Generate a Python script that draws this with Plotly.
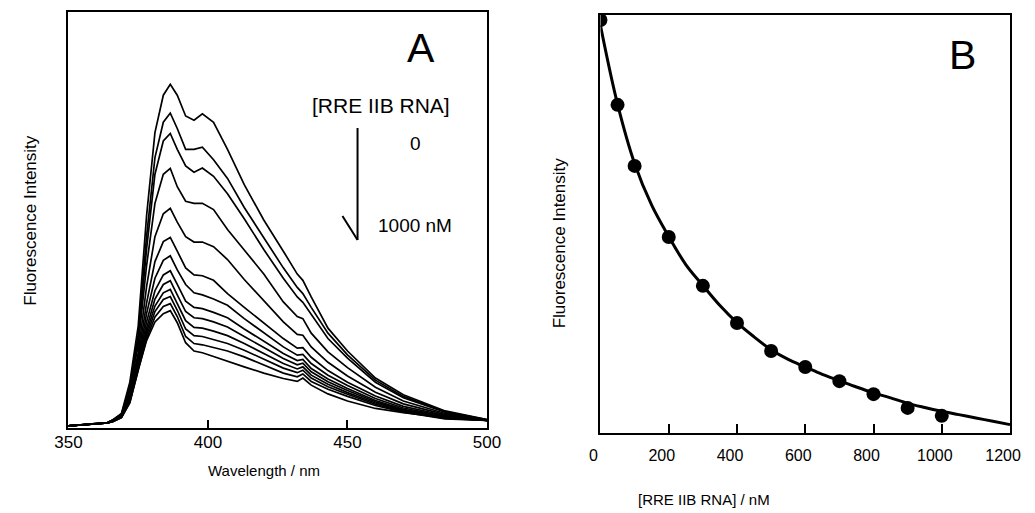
import plotly.graph_objects as go

# the page places the figure 8px down; horizontally the photo maps
# figure px -> 20.75 + 0.969 * px, so positions are converted back here
W, H = 1035, 513
FW, FH = 1027, 505
FONT = "Liberation Sans, Arial, sans-serif"

# ---- panel A: emission spectra, 0 -> 1000 nM RRE IIB RNA (top to bottom)
wavelength = [350, 364, 366, 369, 372, 375, 378, 381, 384, 386.5, 389, 392, 395, 398,
              402, 407, 413, 420, 427, 432, 434, 437, 443, 450, 460, 470, 485, 500]

spectra = [
    [0.5, 1.3, 2.0, 3.5, 11.0, 24.5, 51.0, 71.0, 80.0, 82.6, 80.0, 75.0, 74.0, 75.5,
     73.5, 67.0, 58.5, 50.0, 42.5, 37.0, 35.5, 31.5, 24.0, 18.5, 12.0, 8.0, 4.1, 2.0],
    [0.5, 1.3, 2.0, 3.3, 10.0, 22.5, 46.0, 65.0, 73.5, 75.7, 72.0, 67.0, 67.0, 67.5,
     64.5, 60.0, 53.0, 45.8, 38.5, 33.8, 32.3, 29.0, 22.8, 17.6, 11.5, 7.6, 3.9, 2.0],
    [0.5, 1.3, 1.9, 3.2, 9.5, 21.0, 43.0, 61.0, 69.0, 70.8, 67.0, 63.0, 61.5, 62.5,
     60.5, 56.3, 50.3, 42.9, 36.0, 31.5, 30.2, 27.2, 21.5, 16.8, 11.0, 7.3, 3.8, 1.9],
    [0.5, 1.3, 1.9, 3.1, 9.0, 20.0, 39.0, 54.0, 61.0, 62.4, 58.0, 54.5, 54.0, 54.0,
     52.5, 47.7, 42.8, 37.0, 30.3, 26.8, 26.3, 22.8, 18.3, 14.5, 9.8, 6.5, 3.5, 1.8],
    [0.5, 1.2, 1.8, 3.0, 8.5, 18.0, 34.0, 46.0, 51.5, 52.8, 49.5, 46.0, 44.7, 44.7,
     43.6, 40.5, 35.7, 30.5, 25.5, 22.5, 22.3, 19.5, 15.8, 12.5, 8.6, 5.8, 3.2, 1.8],
    [0.5, 1.2, 1.8, 2.9, 8.0, 17.0, 30.0, 40.0, 44.8, 45.8, 42.5, 38.5, 36.8, 36.6,
     35.5, 32.3, 29.0, 25.3, 21.5, 19.2, 19.3, 17.0, 13.8, 11.0, 7.7, 5.2, 3.0, 1.8],
    [0.5, 1.2, 1.7, 2.8, 7.5, 16.0, 27.5, 36.0, 40.3, 41.4, 38.0, 34.5, 32.5, 32.0,
     31.0, 29.5, 26.3, 22.8, 19.5, 17.5, 17.7, 15.5, 12.7, 10.2, 7.1, 4.8, 2.8, 1.8],
    [0.5, 1.2, 1.7, 2.8, 7.2, 15.5, 25.5, 33.0, 36.8, 37.8, 34.5, 30.5, 29.0, 28.7,
     27.8, 26.5, 23.8, 20.8, 17.9, 16.2, 16.5, 14.3, 11.8, 9.5, 6.6, 4.5, 2.6, 1.8],
    [0.5, 1.2, 1.7, 2.7, 7.0, 15.0, 24.0, 31.0, 34.5, 35.4, 32.0, 28.0, 26.5, 26.3,
     25.5, 24.3, 22.0, 19.3, 16.7, 15.2, 15.6, 13.5, 11.1, 9.0, 6.3, 4.3, 2.5, 1.8],
    [0.5, 1.2, 1.6, 2.6, 6.8, 14.7, 23.0, 29.3, 32.5, 33.3, 30.0, 25.8, 24.2, 24.0,
     23.3, 22.2, 20.3, 17.9, 15.5, 14.2, 14.7, 12.7, 10.5, 8.5, 6.0, 4.1, 2.4, 1.8],
    [0.5, 1.2, 1.6, 2.6, 6.5, 14.4, 22.2, 28.0, 30.9, 31.6, 28.3, 23.8, 22.2, 22.0,
     21.3, 20.3, 18.7, 16.6, 14.4, 13.3, 13.9, 12.0, 9.9, 8.1, 5.7, 3.9, 2.3, 1.8],
    [0.5, 1.2, 1.6, 2.5, 6.2, 14.2, 21.5, 26.7, 29.2, 29.9, 26.8, 22.0, 20.3, 20.0,
     19.4, 18.5, 17.1, 15.2, 13.2, 12.3, 13.0, 11.2, 9.3, 7.6, 5.4, 3.8, 2.2, 1.8],
    [0.5, 1.2, 1.6, 2.5, 6.0, 14.0, 21.0, 25.5, 27.5, 28.2, 25.3, 20.5, 18.5, 18.1,
     17.2, 16.0, 14.7, 13.2, 11.9, 11.2, 12.0, 10.3, 8.2, 6.5, 4.7, 3.7, 2.5, 1.9],
]

# ---- panel B: titration
rna_nM = [0, 50, 100, 200, 300, 400, 500, 600, 700, 800, 900, 1000]
intensity = [98.8, 78.5, 63.9, 46.9, 35.2, 26.3, 19.6, 15.8, 12.4, 9.3, 6.0, 4.1]

fit_nM = [0, 50, 100, 150, 200, 250, 300, 350, 400, 450, 500, 550, 600, 650,
          700, 750, 800, 850, 900, 950, 1000, 1050, 1100, 1150, 1200]
fit_val = [97.5, 78.7, 64.5, 54.5, 47.0, 40.3, 35.3, 30.5, 26.4, 23.0, 19.9,
           17.6, 15.8, 14.0, 12.5, 11.0, 9.6, 8.4, 7.1, 6.1, 5.2, 4.4, 3.6, 2.8, 2.0]


def px(x):
    return max((x - 20.75) / 0.969, 0) / FW


def py(y):
    return 1 - (y - 8) / FH


fig = go.Figure()

for s in spectra:
    fig.add_trace(go.Scatter(x=wavelength, y=s, mode="lines",
                             line=dict(color="black", width=1.7),
                             xaxis="x", yaxis="y", showlegend=False))

fig.add_trace(go.Scatter(x=fit_nM, y=fit_val, mode="lines",
                         line=dict(color="black", width=3, shape="spline"),
                         xaxis="x2", yaxis="y2", showlegend=False))
fig.add_trace(go.Scatter(x=rna_nM, y=intensity, mode="markers",
                         marker=dict(color="black", size=14),
                         xaxis="x2", yaxis="y2", showlegend=False))

frame = dict(showline=True, linecolor="black", linewidth=2, mirror=True,
             showgrid=False, zeroline=False)

fig.update_layout(
    width=FW, height=FH,
    margin=dict(l=0, r=0, t=0, b=0),
    paper_bgcolor="white", plot_bgcolor="white",
    font=dict(family=FONT, color="black"),
    xaxis=dict(domain=[px(67), px(484)], range=[350, 500],
               tickvals=[350, 400, 450, 500], ticks="inside", ticklen=8,
               tickwidth=1.5, tickcolor="black", ticklabelstandoff=-2,
               tickfont=dict(size=17), anchor="y", **frame),
    yaxis=dict(domain=[py(428), py(12)], range=[0, 100], showticklabels=False,
               ticks="", anchor="x", **frame),
    xaxis2=dict(domain=[px(597), px(1005)], range=[0, 1200],
                tickvals=[0, 200, 400, 600, 800, 1000, 1200], ticks="inside",
                ticklen=9, tickwidth=1.5, tickcolor="black",
                ticklabelstandoff=7, ticklabelshift=-7,
                tickfont=dict(size=16), anchor="y2", **frame),
    yaxis2=dict(domain=[py(433), py(15)], range=[0, 100], showticklabels=False,
                ticks="", anchor="x2", **frame),
)

notes = [
    dict(text="Wavelength / nm", x=px(262), y=py(470), size=15, angle=0),
    dict(text="[RRE IIB RNA] / nM", x=px(700), y=py(499), size=15, angle=0),
    dict(text="Fluorescence Intensity", x=9 / FW, y=py(220), size=17, angle=-90),
    dict(text="Fluorescence Intensity", x=px(557), y=py(243), size=17, angle=-90),
    dict(text="A", x=px(418), y=py(48), size=41, angle=0),
    dict(text="B", x=px(958), y=py(55), size=41, angle=0),
    dict(text="[RRE IIB RNA]", x=px(378), y=py(106), size=21, angle=0),
    dict(text="0", x=px(413), y=py(143), size=19, angle=0),
    dict(text="1000 nM", x=px(412), y=py(226), size=19, angle=0),
]
for n in notes:
    fig.add_annotation(text=n["text"], x=n["x"], y=n["y"], xref="paper", yref="paper",
                       showarrow=False, textangle=n["angle"],
                       font=dict(size=n["size"], family=FONT, color="black"),
                       xanchor="center", yanchor="middle")

# concentration arrow (vertical stem with a single left barb)
fig.add_shape(type="line", xref="paper", yref="paper",
              x0=px(355), y0=py(128), x1=px(355), y1=py(240),
              line=dict(color="black", width=2))
fig.add_shape(type="line", xref="paper", yref="paper",
              x0=px(340), y0=py(216), x1=px(355), y1=py(240),
              line=dict(color="black", width=2))

fig.write_html("out.html")
